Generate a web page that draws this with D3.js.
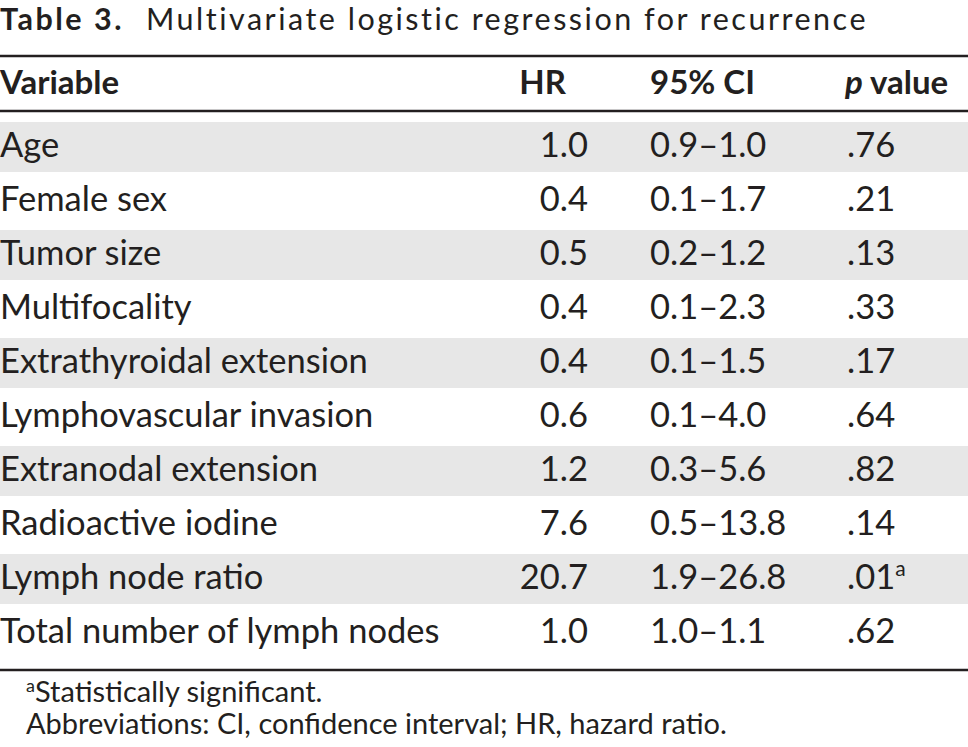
<!DOCTYPE html>
<html>
<head>
<meta charset="utf-8">
<script src="https://cdn.jsdelivr.net/npm/d3@7"></script>
<style>
  body { margin: 0; background: #fff; }
  svg text { font-family: Lato, "Noto Sans", sans-serif; fill: #231f20; }
</style>
</head>
<body>
<svg id="table" width="968" height="747"></svg>
<script>
// table values
var variables = ["Age", "Female sex", "Tumor size", "Multifocality", "Extrathyroidal extension",
    "Lymphovascular invasion", "Extranodal extension", "Radioactive iodine", "Lymph node ratio",
    "Total number of lymph nodes"];
var hr = [1.0, 0.4, 0.5, 0.4, 0.4, 0.6, 1.2, 7.6, 20.7, 1.0];
var ciLow = [0.9, 0.1, 0.2, 0.1, 0.1, 0.1, 0.3, 0.5, 1.9, 1.0];
var ciHigh = [1.0, 1.7, 1.2, 2.3, 1.5, 4.0, 5.6, 13.8, 26.8, 1.1];
var pValues = [".76", ".21", ".13", ".33", ".17", ".64", ".82", ".14", ".01", ".62"];
var significant = [false, false, false, false, false, false, false, false, true, false];

var footnotes = ["Statistically significant.", "Abbreviations: CI, confidence interval; HR, hazard ratio."];

var svg = d3.select('#table');
var W = 968;
var ink = '#231f20';

var fmt = d3.format('.1f');

// one band per row
var y = d3.scaleBand()
    .domain(variables)
    .range([120, 660]);

// column anchors
var col = {variable: 0, hr: 588, ci: 650, p: 847};
var bodySize = '34.5px';

// title
var title = svg.append('text')
    .attr('x', 0)
    .attr('y', 30)
    .style('font-size', '30.5px')
    .style('letter-spacing', '2.5px');
title.append('tspan').style('font-weight', 'bold').text('Table 3.');
title.append('tspan').attr('x', 146).text('Multivariate logistic regression for recurrence');

// rules
function rule(yy) {
    svg.append('line')
        .attr('x1', 0).attr('x2', W)
        .attr('y1', yy).attr('y2', yy)
        .attr('stroke', ink)
        .attr('stroke-width', 2.5);
}
rule(56);
rule(111);
rule(670);

// header
var header = svg.append('g')
    .style('font-size', '33px')
    .style('font-weight', 'bold');
header.append('text').attr('x', col.variable).attr('y', 94).text('Variable');
header.append('text').attr('x', 566).attr('y', 94).attr('text-anchor', 'end').text('HR');
header.append('text').attr('x', col.ci).attr('y', 94).text('95% CI');
var ph = header.append('text').attr('x', 845).attr('y', 94);
ph.append('tspan').style('font-style', 'italic').text('p');
ph.append('tspan').text(' value');

// rows
var rows = svg.append('g').selectAll('g.row')
    .data(variables)
    .enter()
    .append('g')
    .attr('class', 'row')
    .attr('transform', function (d) { return 'translate(0,' + y(d) + ')'; });

rows.filter(function (d, i) { return i % 2 === 0; })
    .append('rect')
    .attr('x', 0)
    .attr('y', 2)
    .attr('width', W)
    .attr('height', y.bandwidth() - 4)
    .attr('fill', '#e7e7e7');

var base = 37;
rows.append('text')
    .attr('x', col.variable)
    .attr('y', base)
    .style('font-size', bodySize)
    .text(function (d) { return d; });

rows.append('text')
    .attr('x', col.hr)
    .attr('y', base)
    .attr('text-anchor', 'end')
    .style('font-size', bodySize)
    .text(function (d, i) { return fmt(hr[i]); });

rows.append('text')
    .attr('x', col.ci)
    .attr('y', base)
    .style('font-size', bodySize)
    .text(function (d, i) { return fmt(ciLow[i]) + '\u2013' + fmt(ciHigh[i]); });

var pText = rows.append('text')
    .attr('x', col.p)
    .attr('y', base)
    .style('font-size', bodySize);
pText.append('tspan').text(function (d, i) { return pValues[i]; });
pText.filter(function (d, i) { return significant[i]; })
    .append('tspan')
    .attr('dy', -13)
    .style('font-size', '21px')
    .text('a');

// footnotes
var fn1 = svg.append('text')
    .attr('x', 26)
    .attr('y', 702)
    .style('font-size', '29px');
fn1.append('tspan').attr('dy', -10).style('font-size', '18px').text('a');
fn1.append('tspan').attr('dy', 10).text(footnotes[0]);

svg.append('text')
    .attr('x', 26)
    .attr('y', 734)
    .style('font-size', '29px')
    .text(footnotes[1]);
</script>
</body>
</html>
